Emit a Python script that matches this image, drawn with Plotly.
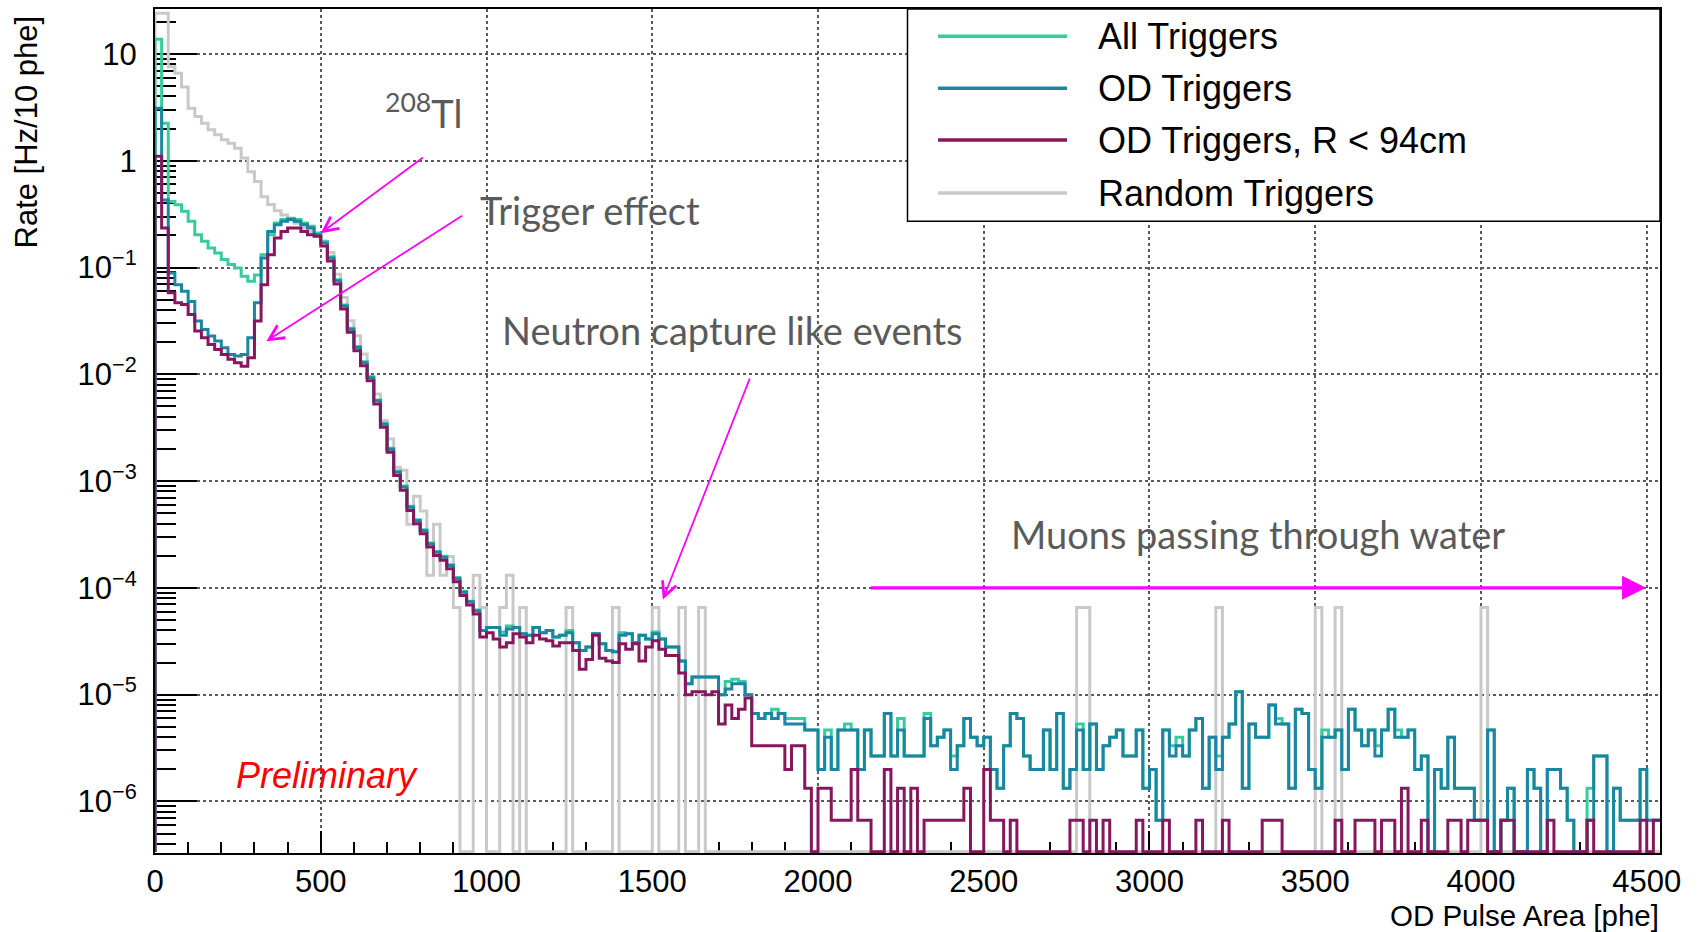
import plotly.graph_objects as go

# ---------------------------------------------------------------- binning
BIN_WIDTH = 20          # phe per bin
X_MAX = 4540            # upper edge of the last bin (phe)
Y_LOG_RANGE = [-6.483, 1.421]

# ---------------------------------------------------------------- data
# Rates (Hz/10 phe) for the first 49 bins, 0-980 phe
all_triggers_low = [
    13.7, 2.24, 0.416, 0.388, 0.336, 0.271, 0.203, 0.176, 0.152, 0.137,
    0.119, 0.1065, 0.099, 0.0828, 0.0743, 0.0853, 0.132, 0.203, 0.261, 0.281,
    0.290, 0.281, 0.261, 0.243, 0.210, 0.174, 0.126, 0.077, 0.0445, 0.0270,
    0.0182, 0.0131, 0.0095, 0.00575, 0.00348, 0.00203, 0.00124, 9.0e-4, 5.8e-4, 4.35e-4,
    3.5e-4, 2.63e-4, 2.19e-4, 1.98e-4, 1.65e-4, 1.25e-4, 9.3e-5, 7.5e-5, 6.2e-5,
]
od_triggers_low = [
    3.1, 0.43, 0.089, 0.069, 0.060, 0.048, 0.0315, 0.0263, 0.0228, 0.0205,
    0.0177, 0.0153, 0.0148, 0.0153, 0.022, 0.0467, 0.123, 0.218, 0.252, 0.271,
    0.281, 0.271, 0.252, 0.234, 0.203, 0.170, 0.123, 0.075, 0.0437, 0.0264,
    0.0178, 0.0128, 0.0093, 0.00564, 0.00341, 0.00199, 0.00121, 8.8e-4, 5.7e-4, 4.26e-4,
    3.43e-4, 2.58e-4, 2.15e-4, 1.94e-4, 1.62e-4, 1.22e-4, 9.1e-5, 7.4e-5, 6.1e-5,
]
od_r94_low = [
    1.1, 0.234, 0.058, 0.0467, 0.045, 0.0363, 0.0254, 0.022, 0.019, 0.0171,
    0.0153, 0.0138, 0.0128, 0.0119, 0.0143, 0.0315, 0.069, 0.132, 0.189, 0.218,
    0.234, 0.234, 0.218, 0.203, 0.196, 0.159, 0.115, 0.070, 0.0408, 0.0247,
    0.0166, 0.0120, 0.0087, 0.00527, 0.00319, 0.00186, 0.00113, 8.2e-4, 5.3e-4, 3.98e-4,
    3.21e-4, 2.41e-4, 2.01e-4, 1.81e-4, 1.51e-4, 1.14e-4, 8.5e-5, 6.9e-5, 5.7e-5,
]
# Random triggers, first 38 bins (0-760 phe)
random_low = [
    24.0, 24.0, 7.6, 6.6, 4.9, 3.1, 2.6, 2.24, 1.95, 1.75,
    1.57, 1.46, 1.31, 1.06, 0.79, 0.64, 0.46, 0.39, 0.34, 0.31,
    0.28, 0.26, 0.234, 0.218, 0.196, 0.177, 0.138, 0.0866, 0.0525, 0.0317,
    0.023, 0.0155, 0.0094, 0.00655, 0.00369, 0.00248, 0.00135, 0.00126,
]

# Above 980 phe: event counts per bin (one event = RATE_PER_COUNT Hz/10 phe)
RATE_PER_COUNT = 6.65e-7
all_triggers_counts = [
    60, 64, 64, 58, 66, 64, 56, 54, 64, 57, 60, 52, 54, 60, 46, 39, 42, 56, 45, 39,
    38, 57, 56, 46, 54, 50, 58, 50, 42, 42, 31, 19, 22, 22, 22, 22, 15, 20, 21, 20,
    15, 10, 9, 10, 11, 10, 9, 9, 9, 7, 7, 3,
    7, 3, 7, 8, 7, 3, 7, 4, 4, 10, 4, 9, 4, 4, 4, 10, 5, 6, 7, 4,
    5, 9, 6, 5, 6, 3, 2, 5, 10, 9, 4, 3, 3, 7, 3, 10, 2, 3, 8, 3,
    8, 3, 5, 6, 7, 4, 4, 7, 2, 3,
    1, 7, 5, 6, 4, 7, 9, 2, 6, 4, 6, 8, 16, 2, 8, 6, 6, 12, 9, 8,
    2, 11, 10, 3, 2, 7, 6, 7, 3, 11, 7, 5, 7, 5, 7, 11, 7, 6, 7, 3,
    4, 0, 3, 2, 6, 2, 2, 2, 1,
    1, 7, 0, 1, 2, 0, 0, 3, 2, 0, 3, 3, 2, 1, 0, 0, 2, 4, 4, 0,
    2, 1, 1, 1, 3, 1, 1,
]
od_triggers_counts = [
    60, 64, 64, 54, 62, 64, 56, 54, 64, 57, 60, 52, 54, 57, 46, 39, 42, 56, 45, 39,
    38, 54, 56, 46, 54, 50, 56, 50, 42, 42, 31, 19, 22, 22, 22, 22, 15, 17, 19, 19,
    15, 10, 9, 10, 9, 10, 8, 8, 8, 7, 7, 3,
    6, 3, 7, 7, 7, 3, 7, 4, 4, 10, 4, 7, 4, 4, 4, 9, 5, 6, 7, 3,
    5, 9, 6, 5, 6, 3, 2, 5, 10, 9, 4, 3, 3, 7, 3, 10, 2, 3, 7, 3,
    8, 3, 5, 6, 7, 4, 4, 7, 2, 3,
    1, 7, 4, 5, 4, 7, 9, 2, 6, 3, 6, 8, 16, 2, 8, 6, 6, 12, 8, 8,
    2, 11, 10, 3, 2, 6, 6, 7, 3, 11, 7, 5, 7, 4, 7, 11, 6, 6, 7, 3,
    4, 0, 3, 2, 6, 2, 2, 2, 1,
    1, 7, 0, 1, 2, 0, 0, 3, 2, 0, 3, 3, 2, 1, 0, 0, 1, 4, 4, 0,
    2, 1, 1, 1, 3, 1, 1,
]
od_r94_counts = [
    52, 57, 50, 42, 46, 56, 52, 46, 54, 50, 48, 43, 46, 46, 39, 26, 32, 54, 33, 31,
    30, 45, 40, 45, 31, 42, 48, 40, 35, 35, 24, 15, 16, 16, 15, 16, 8, 12, 9, 11,
    14, 5, 5, 5, 5, 5, 3, 5, 5, 2, 0, 2,
    2, 1, 1, 1, 3, 1, 1, 0, 0, 3, 0, 2, 0, 2, 0, 1, 1, 1, 1, 1,
    1, 2, 0, 0, 3, 1, 1, 0, 1, 0, 0, 0, 0, 0, 0, 0, 0, 1, 1, 0,
    1, 0, 1, 0, 0, 0, 0, 1, 0, 0,
    0, 1, 0, 0, 0, 0, 1, 0, 0, 0, 1, 0, 0, 0, 0, 0, 1, 1, 1, 0,
    0, 0, 0, 0, 0, 0, 0, 1, 0, 0, 1, 1, 1, 0, 1, 1, 0, 2, 0, 0,
    1, 0, 0, 0, 1, 1, 0, 1, 1,
    1, 0, 0, 1, 1, 0, 0, 0, 0, 0, 1, 0, 0, 0, 0, 0, 1, 0, 0, 0,
    0, 0, 0, 0, 1, 0, 1,
]

# Random triggers above 760 phe: only the non-empty bins (lower edge, events)
RANDOM_RATE_PER_COUNT = 6.56e-5
random_spike_phe = [760, 780, 800, 820, 840, 860, 880, 900, 960, 980, 1040, 1060,
                    1100, 1240, 1380, 1500, 1580, 1640, 2780, 2800, 3200, 3500,
                    3560, 4000]
random_spike_counts = [6, 11, 8, 2, 6, 2, 3, 1, 2, 1, 1, 2,
                       1, 1, 1, 1, 1, 1, 1, 1, 1, 1,
                       1, 1]

SERIES_NAMES = ["All Triggers", "OD Triggers", "OD Triggers, R < 94cm", "Random Triggers"]
COLORS = {
    "All Triggers": "#36cc9c",
    "OD Triggers": "#1b86a2",
    "OD Triggers, R < 94cm": "#87165f",
    "Random Triggers": "#c9c9c9",
}

# ---------------------------------------------------------------- histograms
n_bins = X_MAX // BIN_WIDTH
edges = [i * BIN_WIDTH for i in range(n_bins + 1)]
floor = 10 ** (Y_LOG_RANGE[0] + 0.012)   # empty bins sit on the frame bottom


def join(low, counts, unit):
    return list(low) + [c * unit for c in counts]


random_vals = list(random_low) + [0.0] * (n_bins - len(random_low))
for phe, c in zip(random_spike_phe, random_spike_counts):
    random_vals[phe // BIN_WIDTH] = c * RANDOM_RATE_PER_COUNT

hists = {
    "All Triggers": join(all_triggers_low, all_triggers_counts, RATE_PER_COUNT),
    "OD Triggers": join(od_triggers_low, od_triggers_counts, RATE_PER_COUNT),
    "OD Triggers, R < 94cm": join(od_r94_low, od_r94_counts, RATE_PER_COUNT),
    "Random Triggers": random_vals,
}


def step_xy(values):
    ys = [v if v > 0 else floor for v in values]
    xs = [edges[0]] + edges[:-1] + [edges[-1]]
    ys = [floor] + ys + [ys[-1]]
    return xs, ys


fig = go.Figure()
for name in ["Random Triggers", "All Triggers", "OD Triggers", "OD Triggers, R < 94cm"]:
    xs, ys = step_xy(hists[name])
    fig.add_trace(go.Scatter(
        x=xs, y=ys, mode="lines", name=name, showlegend=False,
        line=dict(shape="hv", color=COLORS[name], width=3),
        hoverinfo="skip",
    ))

# ---------------------------------------------------------------- axes
AXIS_FONT = dict(family="Liberation Sans, Arial, sans-serif", size=31, color="black")
y_tickvals = [1e-6, 1e-5, 1e-4, 1e-3, 1e-2, 1e-1, 1, 10]
y_ticktext = ["10<sup>\u22126</sup>", "10<sup>\u22125</sup>", "10<sup>\u22124</sup>",
              "10<sup>\u22123</sup>", "10<sup>\u22122</sup>", "10<sup>\u22121</sup>",
              "1", "10"]

fig.update_xaxes(
    range=[0, X_MAX], tick0=0, dtick=500,
    showline=True, linecolor="black", linewidth=2, mirror=True,
    ticks="inside", ticklen=22, tickwidth=1.5, tickcolor="black",
    minor=dict(dtick=100, ticks="inside", ticklen=11, tickwidth=1.5,
               tickcolor="black", showgrid=False),
    showgrid=True, gridcolor="#5a5a5a", griddash="dot", gridwidth=1.5,
    zeroline=False, tickfont=AXIS_FONT, ticklabelstandoff=0,
    layer="below traces",
)
fig.update_yaxes(
    type="log", range=Y_LOG_RANGE,
    tickvals=y_tickvals, ticktext=y_ticktext,
    showline=True, linecolor="black", linewidth=2, mirror=True,
    ticks="inside", ticklen=42, tickwidth=1.5, tickcolor="black",
    minor=dict(ticks="inside", ticklen=21, tickwidth=1.5, tickcolor="black",
               dtick="D1", showgrid=False),
    showgrid=True, gridcolor="#5a5a5a", griddash="dot", gridwidth=1.5,
    zeroline=False, tickfont=AXIS_FONT, ticklabelstandoff=10,
    layer="below traces",
)

# ---------------------------------------------------------------- legend box
shapes = [dict(type="rect", xref="paper", yref="paper", x0=0.5, x1=1.0, y0=0.7484, y1=1.0,
               line=dict(color="black", width=1.5), fillcolor="white", layer="above")]
annotations = []
legend_rows = [0.9676, 0.9062, 0.8447, 0.7819]
for name, yr in zip(SERIES_NAMES, legend_rows):
    shapes.append(dict(type="line", xref="paper", yref="paper", x0=0.5203, x1=0.6060,
                       y0=yr, y1=yr, line=dict(color=COLORS[name], width=3.5),
                       layer="above"))
    annotations.append(dict(xref="paper", yref="paper", x=0.6253, y=yr, text=name,
                            showarrow=False, xanchor="left", yanchor="middle",
                            font=dict(family="Liberation Sans, Arial, sans-serif",
                                      size=36, color="black")))

# ---------------------------------------------------------------- titles
annotations += [
    dict(xref="paper", yref="paper", x=-0.0857, y=0.8537, text="Rate [Hz/10 phe]",
         textangle=-90, showarrow=False, xanchor="center", yanchor="middle",
         font=dict(family="Liberation Sans, Arial, sans-serif", size=31, color="black")),
    dict(xref="paper", yref="paper", x=1.0, y=-0.0735, text="OD Pulse Area [phe]",
         showarrow=False, xanchor="right", yanchor="middle", borderpad=0,
         font=dict(family="Liberation Sans, Arial, sans-serif", size=29.5, color="black")),
    dict(xref="paper", yref="paper", x=0.114, y=0.0921, text="<i>Preliminary</i>",
         showarrow=False, xanchor="center", yanchor="middle",
         font=dict(family="Liberation Sans, Arial, sans-serif", size=36, color="#ff0000")),
]

NOTE_FONT = dict(family="Lato, sans-serif", size=38, color="#5a5a5a")
annotations += [
    dict(xref="paper", yref="paper", x=0.1515, y=0.8789, text="<sup>208</sup>Tl",
         showarrow=False, xanchor="left", yanchor="middle", font=NOTE_FONT),
    dict(xref="paper", yref="paper", x=0.2145, y=0.7616, text="Trigger effect",
         showarrow=False, xanchor="left", yanchor="middle", font=NOTE_FONT),
    dict(xref="paper", yref="paper", x=0.2292, y=0.6197, text="Neutron capture like events",
         showarrow=False, xanchor="left", yanchor="middle", font=NOTE_FONT),
    dict(xref="paper", yref="paper", x=0.5674, y=0.3784, text="Muons passing through water",
         showarrow=False, xanchor="left", yanchor="middle", font=NOTE_FONT),
]

# arrows: (tip x, tip log10 y, tail x, tail log10 y, width, head, size)
ARROW_COLOR = "#ff00ff"
arrows = [
    (500, -0.678, 813, 0.040, 1.8, 5, 1.6),
    (336, -1.690, 931, -0.506, 1.8, 5, 1.6),
    (1532, -4.110, 1796, -2.025, 1.8, 5, 1.6),
    (4498, -4.0, 2155, -4.0, 3.2, 2, 1.5),
]
for tx, ty, ax, ay, w, head, size in arrows:
    annotations.append(dict(x=tx, y=ty, ax=ax, ay=ay, xref="x", yref="y",
                            axref="x", ayref="y", text="", showarrow=True,
                            arrowhead=head, arrowsize=size, arrowwidth=w,
                            arrowcolor=ARROW_COLOR, standoff=0))

fig.update_layout(
    width=1698, height=932,
    margin=dict(l=155, r=38, t=7, b=79),
    paper_bgcolor="white", plot_bgcolor="white",
    shapes=shapes, annotations=annotations,
    showlegend=False,
)

fig.write_html("out.html")
